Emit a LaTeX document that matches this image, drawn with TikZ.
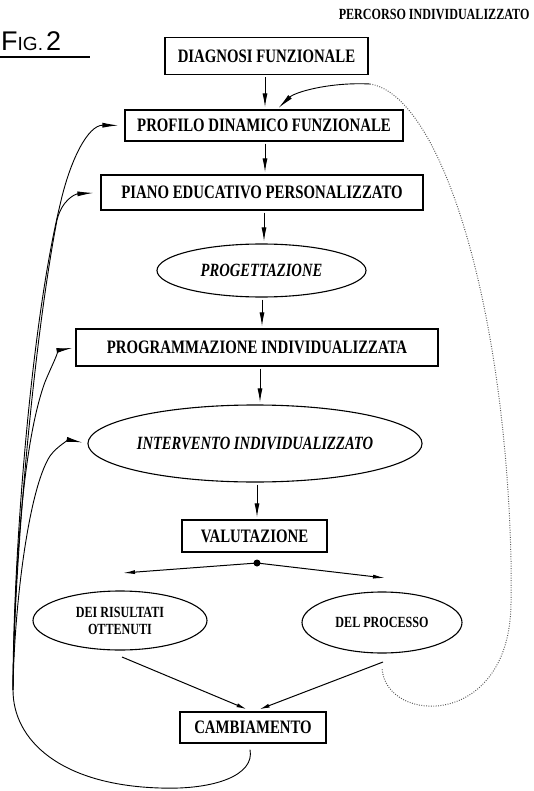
\documentclass[tikz,border=0pt]{standalone}
\usepackage{fontspec}
\setmainfont{Liberation Serif}[FakeStretch=0.78]
\newfontfamily\handfont{Liberation Sans}
\usetikzlibrary{arrows.meta,shapes.geometric,calc}
\tikzset{
  boxn/.style={draw, line width=1.2pt, inner sep=0pt, font=\fontsize{19}{19}\selectfont\bfseries},
  ell/.style={ellipse, draw, line width=1.1pt, inner sep=0pt},
  ellbig/.style={ell, font=\fontsize{18.7}{19}\selectfont\bfseries\itshape},
  ellsmall/.style={ell, align=center, font=\fontsize{15.5}{17}\selectfont\bfseries},
  arr/.style={line width=1pt, -{Latex[length=14pt,width=5pt]}, shorten <=2pt, shorten >=2pt},
  fb/.style={line width=0.9pt, -{Latex[length=16pt,width=5pt]}},
  dotl/.style={line width=1pt, black!65, dash pattern=on 0.9pt off 1.5pt},
}
\begin{document}
\begin{tikzpicture}[x=1pt,y=-1pt]
\useasboundingbox (0,0) rectangle (534,791);
% title and figure label
\node[anchor=east, font=\fontsize{15.5}{16}\selectfont\bfseries] (title) at (533,14) {PERCORSO INDIVIDUALIZZATO};
\node[anchor=base west, inner sep=0pt, font=\handfont] (fig) at (1,51) {\fontsize{27}{27}\selectfont F\fontsize{19}{19}\selectfont IG.\,\fontsize{27}{27}\selectfont 2};
\draw[line width=1.8pt] (0,57) -- (90,57);
% main nodes
\node[boxn, minimum width=203pt, minimum height=37pt] (diag) at (266.5,56) {DIAGNOSI FUNZIONALE};
\node[boxn, minimum width=278pt, minimum height=31pt] (prof) at (264,125.5) {PROFILO DINAMICO FUNZIONALE};
\node[boxn, minimum width=322pt, minimum height=35pt] (piano) at (262,192.5) {PIANO EDUCATIVO PERSONALIZZATO};
\node[ellbig, minimum width=209pt, minimum height=53pt] (prog) at (261.5,270.5) {PROGETTAZIONE};
\node[boxn, minimum width=362pt, minimum height=37pt] (program) at (257,347.5) {PROGRAMMAZIONE INDIVIDUALIZZATA};
\node[ellbig, minimum width=324pt, minimum height=77pt] (interv) at (255,443.5) {INTERVENTO INDIVIDUALIZZATO};
\node[boxn, minimum width=145pt, minimum height=32pt] (valut) at (254.5,536) {VALUTAZIONE};
\node[circle, fill, inner sep=0pt, minimum size=7pt] (dot) at (257,563) {};
\node[ellsmall, minimum width=174pt, minimum height=59pt] (dei) at (120,620.5) {DEI RISULTATI\\OTTENUTI};
\node[ellsmall, minimum width=160pt, minimum height=61pt] (delp) at (382,622.5) {DEL PROCESSO};
\node[boxn, minimum width=146pt, minimum height=31pt] (camb) at (253,727.5) {CAMBIAMENTO};
% helper coordinates
\coordinate (a1) at (265,0);
\coordinate (a2) at (265,0);
\coordinate (a3) at (264,0);
\coordinate (a4) at (262,0);
\coordinate (a5) at (260,0);
\coordinate (a6) at (257,0);
\coordinate (fl) at (123,573);
\coordinate (fr) at (385,578);
\coordinate (dl) at (122,657);
\coordinate (dr) at (383,662);
\coordinate (J) at (13,690);
\coordinate (j2) at (370,84);
\coordinate (dstart) at (382,668);
% vertical chain
\draw[arr] (diag.south -| a1) -- (prof.north -| a1);
\draw[arr] (prof.south -| a2) -- (piano.north -| a2);
\draw[arr] (piano.south -| a3) -- (prog.north -| a3);
\draw[arr] (prog.south -| a4) -- (program.north -| a4);
\draw[arr] (program.south -| a5) -- (interv.north -| a5);
\draw[arr] (interv.south -| a6) -- (valut.north -| a6);
% fan
\draw[line width=1pt, -{Latex[length=12pt,width=4pt]}] (dot.center) -- (fl);
\draw[line width=1pt, -{Latex[length=12pt,width=4pt]}] (dot.center) -- (fr);
% to cambiamento
\draw[line width=1pt, -{Latex[length=10pt,width=4pt]}, shorten >=6pt] (dl) -- ([xshift=-1pt]camb.north);
\draw[line width=1pt, -{Latex[length=10pt,width=4pt]}, shorten >=6pt] (dr) -- ([xshift=1pt]camb.north);
% feedback loop on the left
\draw[line width=0.9pt] ($(camb.south)+(-3,6)$) .. controls (255,775) and (215,790) .. (160,788)
   .. controls (60,785) and (13,740) .. (J);
\draw[fb, shorten >=6pt] (J) .. controls (13,560) and (30,330) .. (60,205)
   .. controls (70,160) and (88,125) .. (prof.west);
\draw[fb, shorten >=7pt] (J) .. controls (14,560) and (34,340) .. (57,220)
   .. controls (62,200) and (75,194) .. (piano.west);
\draw[fb, shorten >=3pt] (J) .. controls (14,600) and (20,450) .. (45,382)
   .. controls (52,365) and (60,350) .. (program.west);
\draw[fb, shorten >=5pt] (J) .. controls (14,610) and (28,490) .. (50,456)
   .. controls (58,445) and (70,440) .. (interv.west);
% feedback loop on the right (dotted) into profilo
\draw[fb, shorten >=2pt] (j2) .. controls (330,82) and (295,92) .. ([xshift=13pt]prof.north);
\draw[dotl] (j2) .. controls (440,95) and (505,300) .. (511,560) -- (511,600)
   .. controls (512,730) and (385,725) .. (dstart);
\end{tikzpicture}
\end{document}
